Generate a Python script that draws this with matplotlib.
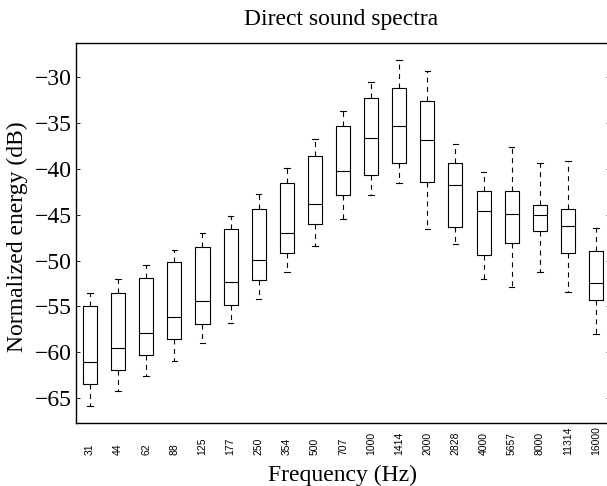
import matplotlib
matplotlib.use('Agg')
import matplotlib.pyplot as plt

# frequency bands (Hz) and box statistics in dB
freqs = ['31', '44', '62', '88', '125', '177', '250', '354', '500', '707',
         '1000', '1414', '2000', '2828', '4000', '5657', '8000', '11314', '16000']
whis_hi = [-53.5, -52.0, -50.5, -48.8, -47.0, -45.1, -42.7, -39.9, -36.8, -33.7,
           -30.5, -28.2, -29.4, -37.3, -40.4, -37.6, -39.4, -39.2, -46.5]
q3 = [-55.0, -53.5, -51.9, -50.2, -48.5, -46.6, -44.4, -41.6, -38.6, -35.3,
      -32.3, -31.2, -32.6, -39.4, -42.4, -42.4, -44.0, -44.4, -49.0]
medians = [-61.1, -59.5, -57.9, -56.2, -54.4, -52.3, -49.9, -47.0, -43.8, -40.2,
           -36.6, -35.3, -36.9, -41.8, -44.6, -44.9, -45.0, -46.2, -52.4]
q1 = [-63.4, -61.9, -60.3, -58.6, -56.9, -54.8, -52.1, -49.2, -46.0, -42.9,
      -40.7, -39.4, -41.4, -46.3, -49.4, -48.1, -46.8, -49.2, -54.3]
whis_lo = [-65.8, -64.2, -62.6, -60.9, -59.0, -56.8, -54.2, -51.2, -48.4, -45.5,
           -42.9, -41.5, -46.6, -48.2, -52.0, -52.9, -51.3, -53.4, -58.0]
yticks = [-65, -60, -55, -50, -45, -40, -35, -30]

serif = 'Liberation Serif'
sans = 'Liberation Sans'

stats = []
for i in range(len(freqs)):
    stats.append({'med': medians[i], 'q1': q1[i], 'q3': q3[i],
                  'whislo': whis_lo[i], 'whishi': whis_hi[i], 'fliers': []})

fig = plt.figure(figsize=(6.07, 4.86), dpi=100)
ax = fig.add_axes([76 / 607, 1 - 423 / 486, 534 / 607, 380 / 486])

lw = 0.8
ax.bxp(stats, positions=range(1, len(freqs) + 1), widths=0.5, capwidths=0.2,
       showfliers=False,
       boxprops=dict(color='black', linewidth=lw),
       medianprops=dict(color='black', linewidth=lw),
       whiskerprops=dict(color='black', linewidth=lw, linestyle=(0, (4.5, 4))),
       capprops=dict(color='black', linewidth=lw))

ax.set_xlim(0.5, len(freqs) + 0.5)
ax.set_ylim(-67.7, -26.3)
ax.set_yticks(yticks)
ax.set_yticklabels([f'\u2212{abs(t)}' for t in yticks], family=serif, fontsize=17)
ax.set_xticks(range(1, len(freqs) + 1))
ax.set_xticklabels(freqs, rotation=90, family=sans, fontsize=7.5, va='bottom')
ax.tick_params(axis='x', length=0, pad=23)
ax.tick_params(axis='y', direction='in', length=3, width=0.6, pad=3,
               right=True)
for s in ax.spines.values():
    s.set_linewidth(1.0)

ax.set_xlabel('Frequency (Hz)', family=serif, fontsize=17)
ax.xaxis.set_label_coords(0.5, -0.137)
ax.xaxis.label.set_va('center')
ax.set_ylabel('Normalized energy (dB)', family=serif, fontsize=17)
ax.yaxis.set_label_coords(-0.109, 0.49)
ax.yaxis.label.set_va('center')
fig.text(341 / 607, 1 - 25 / 486, 'Direct sound spectra', family=serif,
         fontsize=17, ha='center', va='baseline')

plt.savefig('out.png', dpi=100)
